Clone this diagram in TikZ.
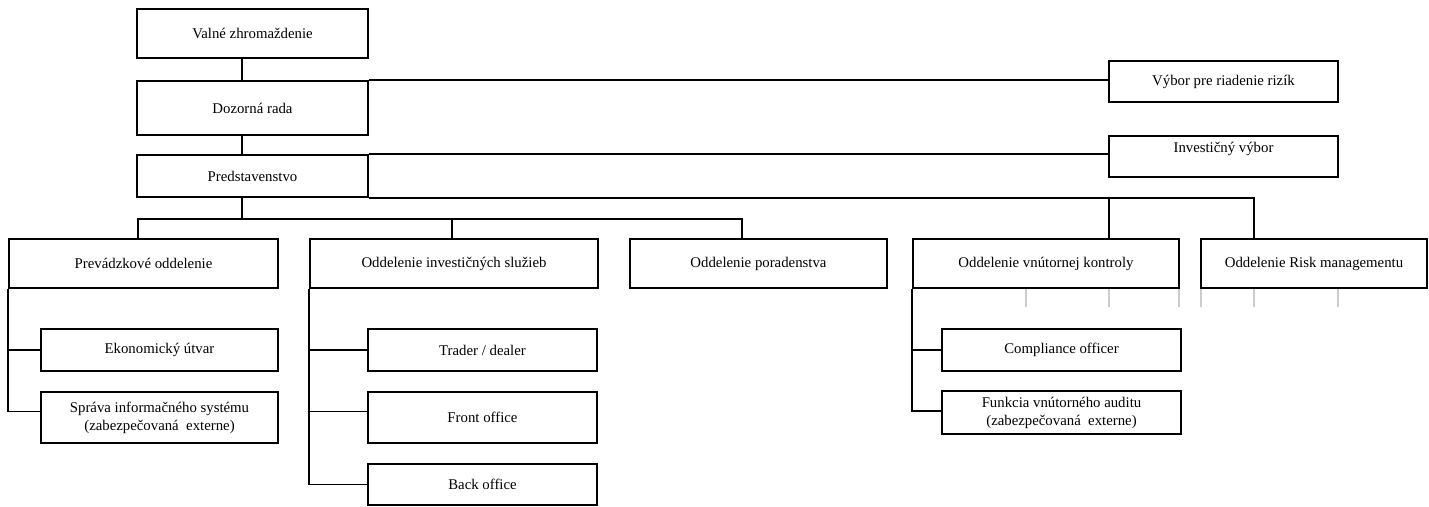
\documentclass[tikz,border=0pt]{standalone}
\usepackage{fontspec}
\setmainfont{Liberation Serif}
\begin{document}
\begin{tikzpicture}[x=0.75pt, y=-0.75pt,
        font=\fontsize{11.1}{13.5}\selectfont,
        box/.style={draw, line width=1.9pt, inner sep=0pt, align=center},
        subbox/.style={draw, line width=1.5pt, inner sep=0pt, align=center},
        frame/.style 2 args={minimum width={#1*0.75pt}, minimum height={#2*0.75pt}},
        link/.style={line width=1.4pt},
        tick/.style={line width=0.8pt, draw=black!20}]
        \useasboundingbox (0,0) rectangle (1429,507);

        % Top bodies
        \node[box, line width=2.1pt, frame={231}{49}] (valne) at (252.5,33.5) {Valné zhromaždenie};
        \node[box, line width=2.1pt, frame={231}{54}] (dozorna) at (252.5,108) {Dozorná rada};
        \node[box, line width=2.1pt, frame={231}{42}] (predst) at (252.5,176) {Predstavenstvo};

        % Committees
        \node[box, line width=1.6pt, frame={229}{41}] (vybor) at (1223.5,81.5) {Výbor pre riadenie rizík};
        \node[box, line width=1.6pt, frame={229}{41}] (invvybor) at (1223.5,156.5) {Investičný výbor\\~};

        % Departments
        \node[box, frame={269}{49}] (prevadz) at (143.5,263.5) {Prevádzkové oddelenie};
        \node[box, frame={288}{49}] (invsluz) at (454,263.5) {Oddelenie investičných služieb};
        \node[box, frame={257}{49}] (porad) at (758.5,263.5) {Oddelenie poradenstva};
        \node[box, frame={266}{49}] (vnut) at (1046,263.5) {Oddelenie vnútornej kontroly};
        \node[box, frame={226}{49}] (riskm) at (1314,263.5) {Oddelenie Risk managementu};

        % Units
        \node[subbox, frame={237}{42}] (ekon) at (159.5,350) {Ekonomický útvar};
        \node[subbox, frame={237}{51}] (sprava) at (159.5,417.5) {Správa informačného systému\\(zabezpečovaná~ externe)};
        \node[subbox, frame={229}{42}] (trader) at (482.5,350) {Trader / dealer};
        \node[subbox, frame={229}{51}] (front) at (482.5,417.5) {Front office};
        \node[subbox, frame={229}{41}] (back) at (482.5,484.5) {Back office};
        \node[subbox, frame={239}{42}] (compl) at (1061.5,350) {Compliance officer};
        \node[box, line width=2.1pt, frame={239}{43}] (audit) at (1061.5,412.5) {Funkcia vnútorného auditu\\(zabezpečovaná~ externe)};

        % Drop points
        \coordinate (spine) at (242,0);
        \coordinate (bus) at (0,219);
        \coordinate (prevdrop) at (138,0);
        \coordinate (invdrop) at (452,0);
        \coordinate (poraddrop) at (742,0);
        \coordinate (vnutdrop) at (1109,0);
        \coordinate (riskdrop) at (1254,0);

        % Chain of bodies
        \draw[link] (valne.south -| spine) -- (dozorna.north -| spine);
        \draw[link] (dozorna.south -| spine) -- (predst.north -| spine);
        \draw[link] (dozorna.north east) -- (vybor.west |- dozorna.north east);
        \draw[link] (predst.north east) -- (invvybor.west |- predst.north east);

        % Bus to departments
        \draw[link] (predst.south -| spine) -- (bus -| spine);
        \draw[link] (prevadz.north -| prevdrop) -- (bus -| prevdrop) -- (bus -| poraddrop) -- (porad.north -| poraddrop);
        \draw[link] (invsluz.north -| invdrop) -- (bus -| invdrop);
        \draw[link] (predst.south east) -| (riskm.north -| riskdrop);
        \draw[link] (predst.south -| vnutdrop) -- (vnut.north -| vnutdrop);

        % Units below departments
        \draw[link] (prevadz.south west) |- (ekon.west);
        \draw[link] (prevadz.south west) |- ([yshift=4.5pt]sprava.west);
        \draw[link] (invsluz.south west) |- (trader.west);
        \draw[link] (invsluz.south west) |- ([yshift=4.5pt]front.west);
        \draw[link] (invsluz.south west) |- (back.west);
        \draw[link] (vnut.south west) |- (compl.west);
        \draw[link] (vnut.south west) |- ([yshift=1pt]audit.west);

        % Grey marks under the right departments
        \foreach \tx in {1026,1109,1179,1201,1254,1338}
            \draw[tick] (\tx,289) -- (\tx,307);
    \end{tikzpicture}
\end{document}
